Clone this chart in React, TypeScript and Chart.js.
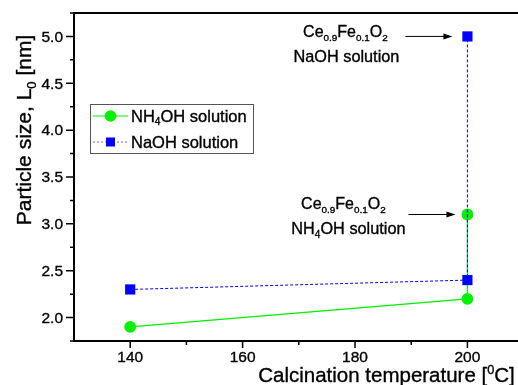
import React, { useEffect, useRef } from 'react';
import { Chart, registerables } from 'chart.js';

Chart.register(...registerables);

// ---- data ----
const nh4ohTemps = [140, 200, 200];
const nh4ohSizes = [1.9, 2.2, 3.1];
const naohTemps = [140, 200, 200];
const naohSizes = [2.3, 2.4, 5.0];

const xMajorTicks = [140, 160, 180, 200];
const xMinorTicks = [150, 170, 190];
const yMajorTicks = [2.0, 2.5, 3.0, 3.5, 4.0, 4.5, 5.0];
const yMinorTicks = [1.75, 2.25, 2.75, 3.25, 3.75, 4.25, 4.75, 5.25];
const xLimits = [130, 209];
const yLimits = [1.75, 5.25];

const seriesLabels = ['NH4OH solution', 'NaOH solution'];

const FONT = '"Liberation Sans", Arial, Helvetica, sans-serif';
const GREEN = '#00f000';
const BLUE = '#0000ff';

type Seg = { t: string; sub?: boolean; sup?: boolean };

function segFont(size: number, s: Seg) {
  const sz = s.sub || s.sup ? size * 0.62 : size;
  return `${sz}px ${FONT}`;
}

function heavyText(ctx: CanvasRenderingContext2D, t: string, x: number, y: number) {
  ctx.fillText(t, x, y);
  ctx.save();
  ctx.strokeStyle = ctx.fillStyle as string;
  ctx.lineWidth = 0.35;
  ctx.setLineDash([]);
  ctx.strokeText(t, x, y);
  ctx.restore();
}

function richWidth(ctx: CanvasRenderingContext2D, segs: Seg[], size: number) {
  let w = 0;
  for (const s of segs) {
    ctx.font = segFont(size, s);
    w += ctx.measureText(s.t).width;
  }
  return w;
}

function drawRich(
  ctx: CanvasRenderingContext2D,
  segs: Seg[],
  x: number,
  y: number,
  size: number,
  align: 'left' | 'center' = 'left'
) {
  const w = richWidth(ctx, segs, size);
  let cx = align === 'center' ? x - w / 2 : x;
  ctx.textAlign = 'left';
  ctx.textBaseline = 'alphabetic';
  for (const s of segs) {
    ctx.font = segFont(size, s);
    const dy = s.sub ? size * 0.24 : s.sup ? -size * 0.4 : 0;
    heavyText(ctx, s.t, cx, y + dy);
    cx += ctx.measureText(s.t).width;
  }
}

const formula: Seg[] = [
  { t: 'Ce' },
  { t: '0.9', sub: true },
  { t: 'Fe' },
  { t: '0.1', sub: true },
  { t: 'O' },
  { t: '2', sub: true },
];
const nh4ohRich: Seg[] = [{ t: 'NH' }, { t: '4', sub: true }, { t: 'OH solution' }];
const naohRich: Seg[] = [{ t: 'NaOH solution' }];

function arrow(ctx: CanvasRenderingContext2D, x1: number, x2: number, y: number) {
  ctx.lineWidth = 1;
  ctx.beginPath();
  ctx.moveTo(x1, y);
  ctx.lineTo(x2 - 6, y);
  ctx.stroke();
  ctx.beginPath();
  ctx.moveTo(x2, y);
  ctx.lineTo(x2 - 9, y - 3);
  ctx.lineTo(x2 - 9, y + 3);
  ctx.closePath();
  ctx.fill();
}

const overlay = {
  id: 'overlay',
  afterDatasetsDraw(chart: any) {
    const { ctx, chartArea: a, scales } = chart;
    const xs = scales.x;
    const ys = scales.y;
    ctx.save();
    ctx.strokeStyle = '#000';
    ctx.fillStyle = '#000';

    // frame / axes
    ctx.lineWidth = 2;
    ctx.beginPath();
    ctx.moveTo(a.left, a.top);
    ctx.lineTo(a.right, a.top);
    ctx.moveTo(a.left, a.top - 1);
    ctx.lineTo(a.left, a.bottom + 1);
    ctx.moveTo(a.left - 1, a.bottom);
    ctx.lineTo(a.right, a.bottom);
    ctx.stroke();

    // ticks
    ctx.lineWidth = 1.5;
    ctx.beginPath();
    for (const v of yMajorTicks) {
      const py = ys.getPixelForValue(v);
      ctx.moveTo(a.left, py);
      ctx.lineTo(a.left - 8, py);
    }
    for (const v of yMinorTicks) {
      const py = ys.getPixelForValue(v);
      ctx.moveTo(a.left, py);
      ctx.lineTo(a.left - 4, py);
    }
    for (const v of xMajorTicks) {
      const px = xs.getPixelForValue(v);
      ctx.moveTo(px, a.bottom);
      ctx.lineTo(px, a.bottom + 7);
    }
    for (const v of xMinorTicks) {
      const px = xs.getPixelForValue(v);
      ctx.moveTo(px, a.bottom);
      ctx.lineTo(px, a.bottom + 4);
    }
    ctx.stroke();

    // tick labels
    ctx.font = `15.5px ${FONT}`;
    ctx.textAlign = 'right';
    ctx.textBaseline = 'alphabetic';
    for (const v of yMajorTicks) {
      heavyText(ctx, v.toFixed(1), a.left - 11, ys.getPixelForValue(v) + 5.3);
    }
    ctx.textAlign = 'center';
    for (const v of xMajorTicks) {
      heavyText(ctx, String(v), xs.getPixelForValue(v), a.bottom + 21);
    }

    // axis titles
    drawRich(
      ctx,
      [{ t: 'Calcination temperature [' }, { t: '0', sup: true }, { t: 'C]' }],
      386.5,
      382,
      20.5,
      'center'
    );
    ctx.save();
    ctx.translate(31, 130);
    ctx.rotate(-Math.PI / 2);
    drawRich(
      ctx,
      [{ t: 'Particle size, L' }, { t: '0', sub: true }, { t: ' [nm]' }],
      0,
      0,
      21,
      'center'
    );
    ctx.restore();

    // annotations
    const pTop = { x: xs.getPixelForValue(naohTemps[2]), y: ys.getPixelForValue(naohSizes[2]) };
    const pMid = { x: xs.getPixelForValue(nh4ohTemps[2]), y: ys.getPixelForValue(nh4ohSizes[2]) };
    ctx.fillStyle = '#000';
    drawRich(ctx, formula, pTop.x - 122, pTop.y + 0.5, 16, 'center');
    drawRich(ctx, naohRich, pTop.x - 121, pTop.y + 26, 16.3, 'center');
    arrow(ctx, pTop.x - 62, pTop.x - 15, pTop.y);
    drawRich(ctx, formula, pMid.x - 124, pMid.y - 5.5, 16, 'center');
    drawRich(ctx, nh4ohRich, pMid.x - 119, pMid.y + 19.5, 16.3, 'center');
    arrow(ctx, pMid.x - 59, pMid.x - 12, pMid.y);

    // legend
    const lx = 90, ly = 104, lw = 163, lh = 49;
    ctx.fillStyle = '#fff';
    ctx.fillRect(lx, ly, lw, lh);
    ctx.strokeStyle = '#555';
    ctx.lineWidth = 1;
    ctx.strokeRect(lx + 0.5, ly + 0.5, lw, lh);

    const r1y = 116, r2y = 142;
    // green entry
    ctx.strokeStyle = GREEN;
    ctx.lineWidth = 1;
    ctx.beginPath();
    ctx.moveTo(93, r1y);
    ctx.lineTo(128, r1y);
    ctx.stroke();
    ctx.fillStyle = GREEN;
    ctx.beginPath();
    ctx.arc(110.5, r1y, 5.8, 0, Math.PI * 2);
    ctx.fill();
    // blue entry
    ctx.strokeStyle = 'rgba(0,0,255,0.6)';
    ctx.setLineDash([2, 2]);
    ctx.beginPath();
    ctx.moveTo(93, r2y);
    ctx.lineTo(128, r2y);
    ctx.stroke();
    ctx.setLineDash([]);
    ctx.fillStyle = BLUE;
    ctx.fillRect(106, r2y - 4.5, 9, 9);

    ctx.fillStyle = '#000';
    drawRich(ctx, nh4ohRich, 131, r1y + 5.5, 16.5, 'left');
    drawRich(ctx, naohRich, 131, r2y + 5.5, 16.5, 'left');
    ctx.restore();
  },
};

export default function App() {
  const ref = useRef<HTMLCanvasElement | null>(null);

  useEffect(() => {
    if (!ref.current) return;
    const chart = new Chart(ref.current, {
      type: 'line',
      data: {
        datasets: [
          {
            label: seriesLabels[1],
            data: naohTemps.map((t, i) => ({ x: t, y: naohSizes[i] })),
            borderColor: BLUE,
            backgroundColor: BLUE,
            borderWidth: 1,
            borderDash: [3, 2],
            pointStyle: 'rect',
            pointRadius: 7.2,
            pointBorderWidth: 0,
            pointBackgroundColor: BLUE,
            tension: 0,
            fill: false,
          },
          {
            label: seriesLabels[0],
            data: nh4ohTemps.map((t, i) => ({ x: t, y: nh4ohSizes[i] })),
            borderColor: GREEN,
            backgroundColor: GREEN,
            borderWidth: 1.2,
            pointStyle: 'circle',
            pointRadius: 5.9,
            pointBorderWidth: 0,
            pointBackgroundColor: GREEN,
            tension: 0,
            fill: false,
          },
        ],
      },
      options: {
        responsive: false,
        animation: false,
        devicePixelRatio: 1,
        layout: { autoPadding: false, padding: { left: 74, top: 13, right: 0, bottom: 44 } },
        scales: {
          x: { type: 'linear', min: xLimits[0], max: xLimits[1], display: false },
          y: { type: 'linear', min: yLimits[0], max: yLimits[1], display: false },
        },
        plugins: {
          legend: { display: false },
          tooltip: { enabled: false },
        },
        events: [],
      },
      plugins: [overlay],
    });
    return () => chart.destroy();
  }, []);

  return (
    <div style={{ position: 'fixed', left: 0, top: 0, width: 518, height: 385, background: '#fff' }}>
      <canvas ref={ref} width={518} height={385} style={{ display: 'block', width: 518, height: 385 }} />
    </div>
  );
}
